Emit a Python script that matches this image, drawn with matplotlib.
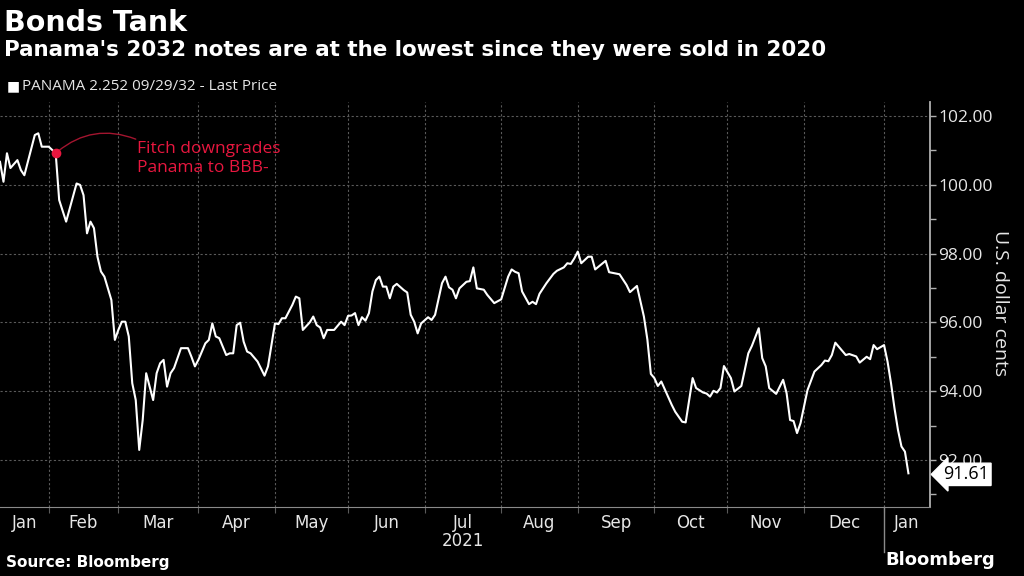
import matplotlib
matplotlib.use('Agg')
import matplotlib.pyplot as plt
import matplotlib.transforms as mtransforms
import numpy as np
import pandas as pd

# trading-day number since 2021-01-12 and last price
days = [0, 1, 2, 3, 5, 6, 7, 10, 11, 12, 14, 16, 17, 19, 22, 23, 24, 25, 26, 27,
        28, 29, 30, 32, 33, 34, 35, 36, 37, 38, 39, 40, 41, 42, 44, 45, 46, 47, 48, 49,
        50, 52, 54, 55, 56, 57, 59, 60, 61, 62, 63, 65, 66, 67, 68, 69, 70, 71, 72, 74,
        76, 77, 79, 80, 81, 82, 84, 85, 86, 87, 89, 90, 91, 92, 93, 94, 96, 98, 99, 100,
        101, 102, 103, 104, 105, 106, 107, 108, 109, 110, 111, 112, 113, 114, 116, 117, 118, 119, 120, 121,
        123, 124, 125, 127, 128, 129, 130, 131, 132, 134, 135, 136, 137, 139, 140, 142, 144, 146, 147, 148,
        149, 150, 152, 153, 154, 155, 157, 159, 160, 162, 163, 164, 165, 166, 167, 169, 170, 171, 174, 175,
        178, 180, 181, 183, 185, 186, 187, 188, 189, 190, 193, 194, 196, 197, 199, 200, 202, 203, 204, 205,
        206, 207, 208, 210, 211, 213, 215, 216, 218, 219, 220, 221, 223, 225, 226, 227, 228, 229, 230, 232,
        234, 236, 237, 238, 239, 240, 243, 244, 246, 247, 249, 250, 251, 252, 254, 255, 256, 257, 258, 259,
        260, 261]
prices = [100.67, 100.09, 100.92, 100.49, 100.72, 100.43, 100.28, 101.45, 101.50, 101.11,
          101.11, 100.92, 99.56, 98.93, 100.04, 100.00, 99.70, 98.59, 98.93, 98.74,
          97.91, 97.48, 97.33, 96.65, 95.49, 95.78, 96.02, 96.02, 95.59, 94.23,
          93.74, 92.29, 93.16, 94.52, 93.74, 94.52, 94.81, 94.91, 94.13, 94.52,
          94.67, 95.25, 95.25, 95.00, 94.72, 94.91, 95.39, 95.49, 95.97, 95.59,
          95.54, 95.05, 95.10, 95.10, 95.92, 95.99, 95.44, 95.15, 95.10, 94.86,
          94.45, 94.72, 95.97, 95.95, 96.12, 96.12, 96.51, 96.75, 96.70, 95.78,
          96.00, 96.17, 95.92, 95.85, 95.54, 95.78, 95.78, 96.02, 95.92, 96.19,
          96.20, 96.27, 95.92, 96.15, 96.05, 96.27, 96.90, 97.23, 97.33, 97.04,
          97.04, 96.70, 97.04, 97.12, 96.94, 96.87, 96.22, 96.02, 95.68, 95.97,
          96.15, 96.07, 96.22, 97.14, 97.33, 97.02, 96.95, 96.70, 96.99, 97.18,
          97.20, 97.60, 96.99, 96.95, 96.80, 96.56, 96.67, 97.33, 97.54, 97.47,
          97.43, 96.90, 96.53, 96.60, 96.53, 96.83, 97.14, 97.41, 97.50, 97.60,
          97.72, 97.70, 97.86, 98.06, 97.72, 97.91, 97.91, 97.54, 97.79, 97.46,
          97.40, 97.09, 96.88, 97.06, 96.17, 95.50, 94.50, 94.38, 94.15, 94.28,
          93.60, 93.40, 93.11, 93.09, 94.38, 94.09, 93.96, 93.93, 93.84, 94.01,
          93.96, 94.09, 94.73, 94.38, 93.99, 94.15, 95.10, 95.31, 95.83, 94.96,
          94.72, 94.09, 93.92, 94.33, 93.94, 93.16, 93.13, 92.78, 93.07, 94.03,
          94.57, 94.76, 94.89, 94.87, 95.05, 95.41, 95.05, 95.08, 95.01, 94.83,
          95.00, 94.93, 95.34, 95.22, 95.34, 94.86, 94.23, 93.50, 92.87, 92.39,
          92.24, 91.61]
assert len(days) == len(prices)

start_date = '2021-01-12'
fitch_day = 16           # Fitch downgrade
y_ticks = [92, 94, 96, 98, 100, 102]
last_price = prices[-1]

bdays = pd.bdate_range(start_date, periods=268)
month_start = [i for i in range(1, len(bdays)) if bdays[i].month != bdays[i - 1].month]
edges = [0] + month_start + [267.2]
month_mid = [(a + b) / 2 for a, b in zip(edges[:-1], edges[1:])]
month_lbl = [bdays[int(a)].strftime('%b') for a in edges[:-1]]

BG = 'black'
GRID = '#5a5a5a'
AX = '#b0b0b0'
RED = '#e8173f'
NARROW = ['Liberation Sans Narrow', 'DejaVu Sans']
SANS = ['Open Sans', 'DejaVu Sans']

fig = plt.figure(figsize=(10.24, 5.76), dpi=100, facecolor=BG)
ax = fig.add_axes([0.0, 0.1198, 0.9082, 0.7031], facecolor=BG)

ax.plot(days, prices, color='white', lw=1.5, solid_joinstyle='round', zorder=3)

ax.set_xlim(0, 267.2)
ax.set_ylim(90.63, 102.41)

# y axis on right
ax.yaxis.tick_right()
ax.set_yticks(y_ticks)
ax.set_yticks(np.arange(91, 102, 2), minor=True)
ax.set_yticklabels(['%.2f' % v for v in y_ticks], fontsize=12.5, color='#e6e6e6', family=SANS)
ax.tick_params(axis='y', which='both', direction='out', color=AX, length=4, width=1, pad=2)

# x axis: month boundaries as ticks, labels at month centres
ax.set_xticks(month_start)
ax.set_xticklabels([])
ax.set_xticks(month_mid, minor=True)
ax.set_xticklabels(month_lbl, minor=True, fontsize=12, color='#e6e6e6', family=NARROW)
ax.tick_params(axis='x', which='major', direction='out', color=GRID, length=4)
ax.tick_params(axis='x', which='minor', length=0, pad=5)

for y in y_ticks:
    ax.axhline(y, color=GRID, lw=0.8, ls=(0, (2, 2)), zorder=1)
for x in month_start:
    ax.axvline(x, color=GRID, lw=0.8, ls=(0, (2, 2)), zorder=1)

for s in ['top', 'left']:
    ax.spines[s].set_visible(False)
ax.spines['right'].set_color(AX)
ax.spines['right'].set_linewidth(1.3)
ax.spines['bottom'].set_color('#8a8a8a')

# year separator below axis
yr_x = month_start[-1]
trans = mtransforms.blended_transform_factory(ax.transData, ax.transAxes)
ax.plot([yr_x, yr_x], [0, -0.11], color='#8a8a8a', lw=1, transform=trans, clip_on=False)
ax.text(month_mid[len(month_mid) // 2], -0.084, '2021', transform=trans, ha='center', va='center',
        fontsize=12, color='#e6e6e6', family=NARROW)

# last price tag
trans2 = mtransforms.blended_transform_factory(ax.transAxes, ax.transData)
ax.text(1.014, last_price - 0.03, '%.2f' % last_price, transform=trans2, ha='left', va='center',
        fontsize=13, color='black', family=SANS,
        bbox=dict(boxstyle='larrow,pad=0.12', fc='white', ec='white'), zorder=5, clip_on=False)

# annotation
fitch_price = prices[days.index(fitch_day)]
ax.plot(fitch_day, fitch_price, 'o', color=RED, ms=6, zorder=4)
ax.annotate('', xy=(fitch_day, fitch_price), xytext=(39, 101.33),
            arrowprops=dict(arrowstyle='-', color='#a3152f', lw=1,
                            connectionstyle='arc3,rad=0.3', shrinkA=0, shrinkB=2))
ax.text(39.4, 101.28, 'Fitch downgrades\nPanama to BBB-', color=RED, fontsize=12.5,
        ha='left', va='top', linespacing=1.25, family=SANS)

fig.text(0.977, 0.474, 'U.S. dollar cents', rotation=270, ha='center', va='center',
         fontsize=14, color='#e6e6e6', family=SANS)

# header
fig.text(0.004, 0.985, 'Bonds Tank', fontsize=20.5, fontweight='bold', color='white', va='top')
fig.text(0.004, 0.93, "Panama's 2032 notes are at the lowest since they were sold in 2020",
         fontsize=15.4, fontweight='bold', color='white', va='top')
fig.text(0.007, 0.851, '\u25A0', fontsize=10, color='white', va='center')
fig.text(0.021, 0.85, 'PANAMA 2.252 09/29/32 - Last Price', fontsize=11, color='#e6e6e6',
         va='center', family=SANS)

# footer
fig.text(0.006, 0.01, 'Source: Bloomberg', fontsize=11, fontweight='bold', color='white',
         va='bottom', family=NARROW)
fig.text(0.972, 0.012, 'Bloomberg', fontsize=13, fontweight='bold', color='white',
         va='bottom', ha='right', family=NARROW)

fig.savefig('out.png', dpi=100, facecolor=BG)
